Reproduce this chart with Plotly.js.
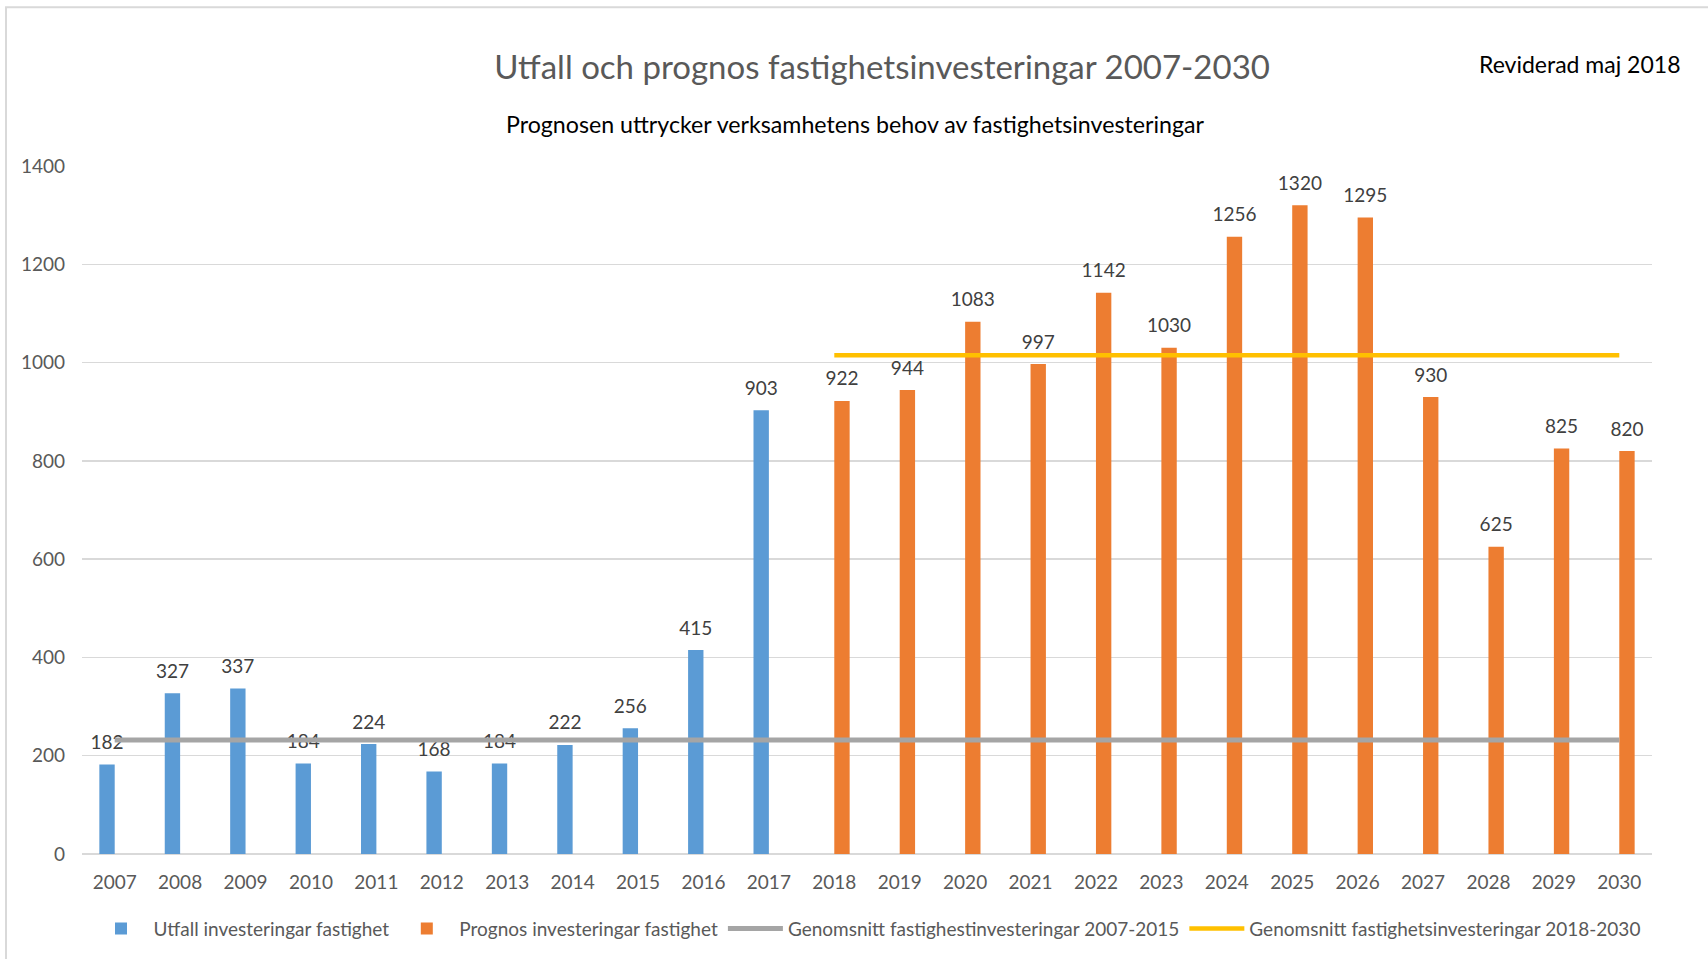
<!DOCTYPE html>
<html>
<head>
<meta charset="utf-8">
<script src="https://cdn.plot.ly/plotly-3.0.1.min.js"></script>
<style>
  html, body { margin: 0; padding: 0; background: #fff; }
  #chart { width: 1708px; height: 959px; }
</style>
</head>
<body>
<div id="chart"></div>
<script>
// years on the x axis
var years = ['2007','2008','2009','2010','2011','2012','2013','2014','2015','2016','2017','2018',
             '2019','2020','2021','2022','2023','2024','2025','2026','2027','2028','2029','2030'];

// utfall (blue bars) 2007-2017
var utfall = [182, 327, 337, 184, 224, 168, 184, 222, 256, 415, 903, null,
              null, null, null, null, null, null, null, null, null, null, null, null];

// prognos (orange bars) 2018-2030
var prognos = [null, null, null, null, null, null, null, null, null, null, null, 922,
               944, 1083, 997, 1142, 1030, 1256, 1320, 1295, 930, 625, 825, 820];

// average lines
var snitt0715 = [232, 232, 232, 232, 232, 232, 232, 232, 232, 232, 232, 232,
                 232, 232, 232, 232, 232, 232, 232, 232, 232, 232, 232, 232];
var snitt1830 = [null, null, null, null, null, null, null, null, null, null, null, 1015,
                 1015, 1015, 1015, 1015, 1015, 1015, 1015, 1015, 1015, 1015, 1015, 1015];

// small base size so the empty second line only adds a little gap above the bar
var labelFont = {family: 'Lato, sans-serif', size: 8, color: '#404040'};
var labelTpl = '<span style="font-size:19px">%{y}</span><br> ';

var trace1 = {
    x: years, y: utfall, type: 'bar',
    name: 'Utfall investeringar fastighet',
    marker: {color: '#5B9BD5'},
    text: utfall, texttemplate: labelTpl, textposition: 'outside',
    constraintext: 'none',
    textfont: labelFont, cliponaxis: false, hoverinfo: 'skip'
};

var trace2 = {
    x: years, y: prognos, type: 'bar',
    name: 'Prognos investeringar fastighet',
    marker: {color: '#ED7D31'},
    text: prognos, texttemplate: labelTpl, textposition: 'outside',
    constraintext: 'none',
    textfont: labelFont, cliponaxis: false, hoverinfo: 'skip'
};

var trace3 = {
    x: years, y: snitt0715, type: 'scatter', mode: 'lines',
    name: 'Genomsnitt fastighestinvesteringar 2007-2015',
    line: {color: '#A5A5A5', width: 5}, hoverinfo: 'skip'
};

var trace4 = {
    x: years, y: snitt1830, type: 'scatter', mode: 'lines',
    name: 'Genomsnitt fastighetsinvesteringar 2018-2030',
    line: {color: '#FFC000', width: 4.5}, hoverinfo: 'skip'
};

var data = [trace1, trace2, trace3, trace4];

var layout = {
    width: 1708, height: 959,
    margin: {l: 82, r: 56, t: 166, b: 104},
    paper_bgcolor: '#fff', plot_bgcolor: '#fff',
    font: {family: 'Lato, sans-serif', color: '#595959'},
    title: {
        text: 'Utfall och prognos fastighetsinvesteringar 2007-2030',
        font: {family: 'Lato, sans-serif', size: 33, color: '#595959'},
        xref: 'paper', x: 0.5096, xanchor: 'center',
        yref: 'container', y: 0.9296, yanchor: 'middle'
    },
    barmode: 'group', bargap: 0.53, bargroupgap: 0,
    showlegend: true,
    legend: {
        orientation: 'h', x: 0.5, xanchor: 'center', y: -0.107, yanchor: 'middle',
        font: {family: 'Lato, sans-serif', size: 19, color: '#595959'},
        traceorder: 'normal', itemwidth: 55
    },
    xaxis: {
        type: 'category', showgrid: false, showline: false, zeroline: false,
        ticks: '', ticklabelstandoff: 15,
        tickfont: {family: 'Lato, sans-serif', size: 19, color: '#595959'}
    },
    yaxis: {
        range: [0, 1400], dtick: 200, showgrid: true, gridcolor: '#D9D9D9', gridwidth: 1.5,
        zeroline: true, zerolinecolor: '#D9D9D9', zerolinewidth: 2,
        showline: false, ticks: '', ticklabelstandoff: 16,
        tickfont: {family: 'Lato, sans-serif', size: 19, color: '#595959'}
    },
    annotations: [
        {
            text: 'Prognosen uttrycker verksamhetens behov av fastighetsinvesteringar',
            xref: 'paper', yref: 'paper', x: 0.4924, y: 1.061,
            xanchor: 'center', yanchor: 'middle', showarrow: false,
            font: {family: 'Lato, sans-serif', size: 23.2, color: '#000'}
        },
        {
            text: 'Reviderad maj 2018',
            xref: 'paper', yref: 'paper', x: 0.954, y: 1.148,
            xanchor: 'center', yanchor: 'middle', showarrow: false,
            font: {family: 'Lato, sans-serif', size: 23, color: '#000'}
        }
    ],
    shapes: [
        {type: 'rect', xref: 'paper', yref: 'paper',
         x0: -0.0484, x1: 1.043, y0: -0.174, y1: 1.2308,
         line: {color: '#D9D9D9', width: 2}, layer: 'below'}
    ]
};

Plotly.newPlot('chart', data, layout, {displayModeBar: false, staticPlot: true});
</script>
</body>
</html>
